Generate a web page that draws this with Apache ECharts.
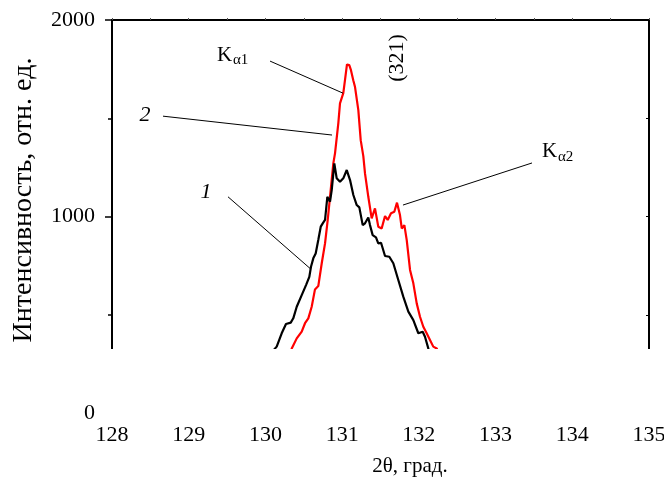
<!DOCTYPE html>
<html><head><meta charset="utf-8">
<script src="https://cdn.jsdelivr.net/npm/echarts@6/dist/echarts.min.js"></script>
<style>html,body{margin:0;padding:0;background:#fff}#c{width:664px;height:477px}</style>
</head><body><div id="c"></div><script>
// ---- data ----
const xMin = 128, xMax = 135;
const yMin = 0, yMax = 2000;
// curve 1 (black)
const theta1 = [130.085,130.147,130.212,130.268,130.330,130.363,130.408,130.473,130.529,130.572,130.594,130.624,130.655,130.689,130.721,130.747,130.777,130.807,130.829,130.842,130.864,130.898,130.929,130.972,131.015,131.060,131.103,131.146,131.190,131.224,131.268,131.298,131.341,131.363,131.398,131.441,131.471,131.507,131.559,131.615,131.667,131.732,131.797,131.863,131.928,131.993,132.050,132.080,132.123,132.139];
const int1 = [312,339,407,454,461,483,542,601,652,694,745,788,813,881,949,966,983,1101,1110,1076,1135,1271,1195,1177,1195,1237,1186,1110,1059,1047,957,966,996,957,906,895,864,867,800,796,763,678,593,517,474,407,415,389,330,312];
// curve 2 (red)
const theta2 = [130.333,130.343,130.408,130.473,130.516,130.559,130.603,130.646,130.689,130.734,130.777,130.812,130.842,130.885,130.907,130.950,130.972,131.015,131.037,131.063,131.093,131.115,131.145,131.168,131.211,131.242,131.276,131.298,131.341,131.385,131.428,131.471,131.515,131.559,131.594,131.637,131.680,131.715,131.754,131.777,131.811,131.842,131.885,131.928,131.972,132.015,132.058,132.102,132.145,132.188,132.233,132.250];
const int2 = [312,330,381,415,458,483,542,630,647,763,864,983,1101,1271,1322,1474,1576,1628,1694,1774,1771,1745,1694,1659,1542,1389,1308,1220,1101,991,1042,949,940,1003,983,1017,1025,1071,1008,940,957,881,729,661,559,491,440,407,373,339,330,312];
// leader lines (data units): [x1,y1,x2,y2]
const leaderKa1 = [130.060,1791,131.011,1628];
const leader2   = [128.665,1511,130.868,1415];
const leader1   = [129.512,1101,130.581,737];
const leaderKa2 = [133.475,1273,131.793,1059];

const FONT = 'Liberation Serif';
const zip = (a,b) => a.map((v,i)=>[v,b[i]]);
const seg = s => [{coord:[s[0],s[1]]},{coord:[s[2],s[3]]}];

const chart = echarts.init(document.getElementById('c'), null, {renderer:'canvas'});
const axisLineStyle = {color:'#000', width:2};
chart.setOption({
  animation:false,
  backgroundColor:'#fff',
  grid:{left:112, right:15, top:20, bottom:63.7, containLabel:false, outerBoundsMode:'none'},
  xAxis:[
    {type:'value', min:xMin, max:xMax, interval:1, position:'bottom',
     axisLine:{show:true, onZero:false, lineStyle:axisLineStyle}, axisTick:{show:false}, splitLine:{show:false},
     axisLabel:{color:'#000', fontFamily:FONT, fontSize:22, margin:11, formatter:v=>String(v)}},
    {type:'value', min:xMin, max:xMax, interval:0.5, position:'top',
     axisLine:{show:true, onZero:false, lineStyle:axisLineStyle}, axisTick:{show:true, inside:false, length:2, lineStyle:{color:'#555',width:1}},
     axisLabel:{show:false}, splitLine:{show:false}}
  ],
  yAxis:[
    {type:'value', min:yMin, max:yMax, interval:1000, position:'left',
     axisLine:{show:true, onZero:false, lineStyle:axisLineStyle},
     axisTick:{show:true, length:7, lineStyle:{color:'#000', width:1.5}},
     minorTick:{show:true, splitNumber:2, length:4, lineStyle:{color:'#000', width:1.5}},
     splitLine:{show:false},
     axisLabel:{color:'#000', fontFamily:FONT, fontSize:22, margin:17, formatter:v=>String(v)}},
    {type:'value', min:yMin, max:yMax, interval:500, position:'right',
     axisLine:{show:true, onZero:false, lineStyle:axisLineStyle},
     axisTick:{show:true, inside:true, length:3, lineStyle:{color:'#000', width:1}},
     axisLabel:{show:false}, splitLine:{show:false}}
  ],
  series:[
    {type:'line', name:'1', data:zip(theta1,int1), showSymbol:false, symbol:'none',
     lineStyle:{color:'#000', width:2.2}, itemStyle:{color:'#000'}, z:3,
     markLine:{silent:true, symbol:['none','none'], label:{show:false},
       lineStyle:{color:'#000', width:1, type:'solid'},
       data:[seg(leaderKa1), seg(leader2), seg(leader1), seg(leaderKa2)]}},
    {type:'line', name:'2', data:zip(theta2,int2), showSymbol:false, symbol:'none',
     lineStyle:{color:'#ff0000', width:2.2}, itemStyle:{color:'#ff0000'}, z:2}
  ],
  graphic:[
    {type:'rect', shape:{x:100, y:349, width:564, height:76}, style:{fill:'#fff'}, z:100, silent:true},
    {type:'text', x:24, y:200, rotation:Math.PI/2, z:101,
     style:{text:'Интенсивность, отн. ед.', font:'28px "Liberation Serif"', fill:'#000', textAlign:'center', textVerticalAlign:'middle'}},
    {type:'text', x:410, y:466, z:101,
     style:{text:'2θ, град.', font:'21px "Liberation Serif"', fill:'#000', textAlign:'center', textVerticalAlign:'middle'}},
    {type:'text', x:397, y:58, rotation:Math.PI/2, z:101,
     style:{text:'(321)', font:'22px "Liberation Serif"', fill:'#000', textAlign:'center', textVerticalAlign:'middle'}},
    {type:'text', x:217, y:55, z:101,
     style:{text:'K', font:'21px "Liberation Serif"', fill:'#000', textAlign:'left', textVerticalAlign:'middle'}},
    {type:'text', x:233, y:60, z:101,
     style:{text:'α1', font:'15px "Liberation Serif"', fill:'#000', textAlign:'left', textVerticalAlign:'middle'}},
    {type:'text', x:542, y:151, z:101,
     style:{text:'K', font:'21px "Liberation Serif"', fill:'#000', textAlign:'left', textVerticalAlign:'middle'}},
    {type:'text', x:558, y:157, z:101,
     style:{text:'α2', font:'15px "Liberation Serif"', fill:'#000', textAlign:'left', textVerticalAlign:'middle'}},
    {type:'text', x:145, y:115, z:101,
     style:{text:'2', font:'italic 22px "Liberation Serif"', fill:'#000', textAlign:'center', textVerticalAlign:'middle'}},
    {type:'text', x:206, y:192, z:101,
     style:{text:'1', font:'italic 22px "Liberation Serif"', fill:'#000', textAlign:'center', textVerticalAlign:'middle'}}
  ]
});
</script></body></html>
